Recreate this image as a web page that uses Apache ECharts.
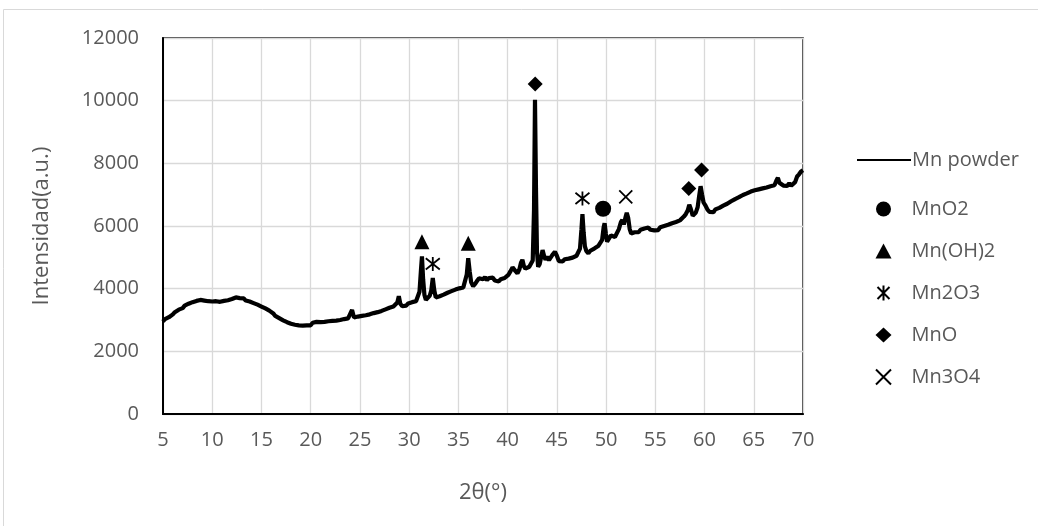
<!DOCTYPE html>
<html>
<head>
<meta charset="utf-8">
<script src="https://cdn.jsdelivr.net/npm/echarts@6/dist/echarts.min.js"></script>
<style>
html,body{margin:0;padding:0;background:#fff;}
#chart{width:1038px;height:526px;}
</style>
</head>
<body>
<div id="chart"></div>
<script>
// ---- data ----
const xTicks = [5,10,15,20,25,30,35,40,45,50,55,60,65,70];
const yTicks = [0,2000,4000,6000,8000,10000,12000];

// XRD pattern "Mn powder" [2θ, intensity]
const mnPowder = [
[5.0,2950],[5.2,3030],[5.4,2990],[5.6,3090],[5.8,3150],[6.0,3180],[6.2,3250],[6.4,3230],[6.6,3330],[6.8,3370],
[7.0,3380],[7.2,3460],[7.4,3440],[7.6,3520],[7.8,3500],[8.0,3570],[8.2,3540],[8.4,3610],[8.6,3560],[8.8,3640],
[9.0,3580],[9.2,3620],[9.4,3560],[9.6,3600],[9.8,3540],[10.0,3590],[10.2,3530],[10.4,3600],[10.6,3540],[10.8,3580],
[11.0,3530],[11.2,3610],[11.4,3570],[11.6,3630],[11.8,3590],[12.0,3670],[12.2,3620],[12.4,3720],[12.6,3660],[12.8,3700],
[13.0,3640],[13.2,3690],[13.4,3620],[13.6,3650],[13.8,3590],[14.0,3600],[14.2,3540],[14.4,3560],[14.6,3490],[14.8,3470],
[15.0,3430],[15.2,3400],[15.4,3370],[15.6,3330],[15.8,3300],[16.0,3240],[16.2,3210],[16.4,3130],[16.6,3150],[16.8,3060],
[17.0,3080],[17.2,2990],[17.4,3010],[17.6,2930],[17.8,2960],[18.0,2880],[18.2,2920],[18.4,2850],[18.6,2890],[18.8,2830],
[19.0,2870],[19.2,2820],[19.4,2880],[19.6,2830],[19.8,2870],[20.0,2830],[20.2,2910],[20.4,2860],[20.6,2940],[20.8,2880],
[21.0,2930],[21.2,2870],[21.4,2940],[21.6,2890],[21.8,2960],[22.0,2900],[22.2,2970],[22.4,2920],[22.6,2980],[22.8,2940],
[23.0,3000],[23.2,2950],[23.4,3030],[23.6,2990],[23.8,3050],[24.0,3060],[24.2,3320],[24.4,3080],[24.6,3050],[24.8,3110],
[25.0,3060],[25.2,3130],[25.4,3090],[25.6,3150],[25.8,3110],[26.0,3180],[26.2,3150],[26.4,3220],[26.6,3180],[26.8,3250],
[27.0,3220],[27.2,3290],[27.4,3260],[27.6,3340],[27.8,3310],[28.0,3390],[28.2,3360],[28.4,3430],[28.6,3410],[28.8,3560],
[28.95,3760],[29.1,3520],[29.3,3440],[29.5,3500],[29.7,3460],[29.9,3530],[30.1,3500],[30.3,3570],[30.5,3540],[30.7,3600],
[30.9,3650],[31.05,3900],[31.2,4600],[31.3,5030],[31.42,4300],[31.55,3800],[31.7,3640],[31.9,3700],[32.1,3780],[32.25,3950],
[32.4,4340],[32.55,3950],[32.7,3720],[32.9,3680],[33.1,3760],[33.3,3720],[33.5,3810],[33.7,3780],[33.9,3870],[34.1,3830],
[34.3,3920],[34.5,3890],[34.7,3970],[34.9,3930],[35.1,4010],[35.3,3980],[35.5,4040],[35.7,4100],[35.85,4450],[36.0,4970],
[36.15,4550],[36.3,4200],[36.5,4080],[36.7,4150],[36.9,4250],[37.1,4330],[37.3,4390],[37.5,4300],[37.7,4370],[37.9,4270],
[38.1,4340],[38.3,4280],[38.5,4350],[38.7,4260],[38.9,4320],[39.1,4230],[39.3,4300],[39.5,4260],[39.7,4340],[39.9,4390],
[40.1,4450],[40.3,4560],[40.5,4680],[40.65,4720],[40.8,4560],[41.0,4490],[41.2,4620],[41.35,4820],[41.5,4920],[41.65,4720],
[41.8,4640],[42.0,4660],[42.2,4700],[42.4,4760],[42.55,4900],[42.68,6500],[42.78,10030],[42.88,7200],[42.98,5200],[43.1,4700],
[43.25,4780],[43.4,5000],[43.55,5230],[43.7,5050],[43.85,4920],[44.0,5020],[44.2,4910],[44.4,4960],[44.6,5100],[44.8,5180],
[45.0,5050],[45.2,4880],[45.4,4920],[45.6,4870],[45.8,4940],[46.0,4890],[46.2,4960],[46.4,4920],[46.6,4990],[46.8,4960],
[47.0,5050],[47.2,5110],[47.35,5280],[47.5,5900],[47.6,6380],[47.72,5800],[47.85,5350],[48.0,5200],[48.2,5130],[48.4,5210],
[48.6,5170],[48.8,5280],[49.0,5300],[49.2,5360],[49.4,5420],[49.6,5560],[49.75,5950],[49.85,6090],[49.98,5750],[50.1,5500],
[50.3,5560],[50.5,5700],[50.7,5760],[50.9,5650],[51.1,5680],[51.3,5900],[51.5,6120],[51.65,6190],[51.8,6050],[52.0,6310],
[52.1,6420],[52.25,6250],[52.4,5900],[52.55,5760],[52.7,5700],[52.9,5800],[53.1,5850],[53.3,5800],[53.5,5880],[53.7,5830],
[53.9,5920],[54.1,5870],[54.3,5950],[54.5,5880],[54.7,5930],[54.9,5860],[55.1,5920],[55.3,5870],[55.5,5960],[55.7,5910],
[55.9,6000],[56.1,5960],[56.3,6040],[56.5,6000],[56.7,6090],[56.9,6050],[57.1,6130],[57.3,6100],[57.5,6180],[57.7,6230],
[57.9,6300],[58.1,6380],[58.3,6500],[58.45,6680],[58.6,6550],[58.8,6330],[58.95,6300],[59.1,6420],[59.3,6600],[59.45,6950],
[59.6,7270],[59.75,7000],[59.9,6750],[60.1,6650],[60.3,6520],[60.5,6450],[60.7,6500],[60.9,6440],[61.1,6530],[61.3,6490],
[61.5,6580],[61.7,6560],[61.9,6650],[62.1,6620],[62.3,6710],[62.5,6690],[62.7,6790],[62.9,6760],[63.1,6860],[63.3,6830],
[63.5,6920],[63.7,6900],[63.9,6990],[64.1,6950],[64.3,7040],[64.5,7010],[64.7,7100],[64.9,7060],[65.1,7140],[65.3,7090],
[65.5,7170],[65.7,7120],[65.9,7200],[66.1,7150],[66.3,7230],[66.5,7190],[66.7,7270],[66.9,7230],[67.1,7300],[67.3,7450],
[67.45,7540],[67.6,7380],[67.8,7340],[68.0,7290],[68.2,7350],[68.4,7280],[68.6,7360],[68.8,7290],[69.0,7350],[69.2,7400],
[69.4,7580],[69.6,7650],[69.8,7740],[70.0,7780]
];

// phase markers [2θ, y]
const mnO2   = [[49.7,6550]];
const mnOH2  = [[31.3,5500],[36.0,5450]];
const mn2O3  = [[32.4,4790],[47.6,6880]];
const mnO    = [[42.8,10530],[58.4,7200],[59.7,7790]];
const mn3O4  = [[52.0,6930]];

const lineName = 'Mn powder';
const markerNames = ['MnO2','Mn(OH)2','Mn2O3','MnO','Mn3O4'];

// ---- chart ----
const FONT = 'Open Sans';
const GRAY = '#595959';
const chart = echarts.init(document.getElementById('chart'), null, {renderer:'canvas'});

const asteriskPath = 'path://M1,1L9,9M9,1L1,9M5,0L5,10';
const crossPath = 'path://M0,0L10,10M10,0L0,10';

function markerSeries(name, data, symbol, size, stroke) {
  return {
    name: name, type: 'scatter', data: data, symbol: symbol, symbolSize: size,
    itemStyle: stroke ? {color: 'rgba(0,0,0,0)', borderColor: '#000', borderWidth: 1.8, opacity: 1}
                      : {color: '#000', opacity: 1},
    z: 5, silent: true
  };
}

const legendText = {color: GRAY, fontSize: 20, fontFamily: FONT};

chart.setOption({
  animation: false,
  backgroundColor: '#fff',
  textStyle: {fontFamily: FONT},
  graphic: [{
    type: 'rect', shape: {x: 3.5, y: 9.5, width: 1200, height: 700},
    style: {fill: 'none', stroke: '#d9d9d9', lineWidth: 1}, silent: true, z: -10
  }],
  grid: {left: 163, right: 235, top: 38, bottom: 112, show: true,
         borderColor: '#000', borderWidth: 1.4, backgroundColor: 'transparent'},
  xAxis: {
    type: 'value', min: 5, max: 70, interval: 5,
    name: '2θ(°)', nameLocation: 'middle', nameGap: 68,
    nameTextStyle: {color: GRAY, fontSize: 22, fontFamily: FONT},
    axisLine: {show: true, lineStyle: {color: '#000', width: 2}},
    axisTick: {show: false},
    axisLabel: {color: GRAY, fontSize: 20, margin: 16, fontFamily: FONT,
      formatter: v => xTicks.includes(v) ? String(v) : ''},
    splitLine: {show: true, lineStyle: {color: '#d9d9d9', width: 1.3}}
  },
  yAxis: {
    type: 'value', min: 0, max: 12000, interval: 2000,
    name: 'Intensidad(a.u.)', nameLocation: 'middle', nameGap: 110, nameRotate: 90,
    nameTextStyle: {color: GRAY, fontSize: 22, fontFamily: FONT},
    axisLine: {show: true, lineStyle: {color: '#000', width: 2}},
    axisTick: {show: false},
    axisLabel: {color: GRAY, fontSize: 20, margin: 24, fontFamily: FONT,
      formatter: v => yTicks.includes(v) ? String(v) : ''},
    splitLine: {show: true, lineStyle: {color: '#d9d9d9', width: 1.3}}
  },
  legend: [{
    orient: 'vertical', left: 852, top: 145,
    itemWidth: 54, itemHeight: 14, symbolKeepAspect: true,
    textStyle: Object.assign({padding: [0,0,0,-4]}, legendText),
    data: [{name: lineName, icon: 'path://M0,0L54,0L54,2.2L0,2.2Z'}]
  }, {
    orient: 'vertical', left: 870, top: 194,
    itemWidth: 16, itemHeight: 15, itemGap: 22,
    textStyle: Object.assign({padding: [0,0,0,15]}, legendText),
    data: markerNames
  }],
  series: [
    {name: lineName, type: 'line', data: mnPowder, showSymbol: false, symbol: 'none',
     lineStyle: {color: '#000', width: 4.2}, itemStyle: {color: '#000'}, z: 3, silent: true},
    markerSeries('MnO2', mnO2, 'circle', 16, false),
    markerSeries('Mn(OH)2', mnOH2, 'triangle', 15, false),
    markerSeries('Mn2O3', mn2O3, asteriskPath, 14, true),
    markerSeries('MnO', mnO, 'diamond', 15, false),
    markerSeries('Mn3O4', mn3O4, crossPath, 13, true)
  ]
});
</script>
</body>
</html>
